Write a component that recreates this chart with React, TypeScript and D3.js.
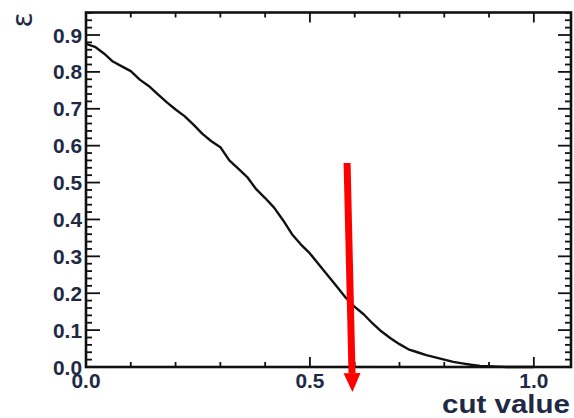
import React from "react";
import * as d3 from "d3";

const cutValues = [0.00, 0.02, 0.04, 0.06, 0.08, 0.10, 0.12, 0.14, 0.16, 0.18, 0.20, 0.22, 0.24, 0.26, 0.28, 0.30, 0.32, 0.34, 0.36, 0.38, 0.40, 0.42, 0.44, 0.46, 0.48, 0.50, 0.52, 0.54, 0.56, 0.58, 0.60, 0.62, 0.64, 0.66, 0.68, 0.70, 0.72, 0.74, 0.76, 0.78, 0.80, 0.82, 0.84, 0.86, 0.88, 0.90, 0.92, 0.94, 0.96, 0.98, 1.00];
const efficiency = [0.876, 0.868, 0.850, 0.828, 0.815, 0.802, 0.779, 0.762, 0.740, 0.718, 0.698, 0.680, 0.657, 0.632, 0.612, 0.596, 0.560, 0.538, 0.515, 0.482, 0.458, 0.432, 0.398, 0.360, 0.332, 0.308, 0.278, 0.248, 0.218, 0.188, 0.163, 0.143, 0.118, 0.096, 0.078, 0.062, 0.048, 0.040, 0.032, 0.026, 0.020, 0.014, 0.010, 0.006, 0.003, 0.002, 0.001, 0.000, 0.000, 0.000, 0.000];

const xTickLabels = ["0.0", "0.5", "1.0"];
const yTickLabels = ["0.0", "0.1", "0.2", "0.3", "0.4", "0.5", "0.6", "0.7", "0.8", "0.9"];
const xTitle = "cut value";
const yTitle = "ε";

// arrow annotation in data units (cut value, efficiency)
const arrowFrom = [0.583, 0.553];
const arrowTo = [0.595, -0.068];

const W = 574, H = 418;
const X0 = 86, X1 = 571, Y0 = 367, Y1 = 12.5;
const TEXT = "#1e2a44";

export default function App() {
  const x = d3.scaleLinear().domain([0, 1.083]).range([X0, X1]);
  const y = d3.scaleLinear().domain([0, 0.961]).range([Y0, Y1]);
  const pts: [number, number][] = cutValues.map((c, i) => [c, efficiency[i]]);
  const line = d3.line<[number, number]>().x(d => x(d[0])).y(d => y(d[1]));

  const yMinor = d3.range(0, 0.961, 0.02);
  const xMinor = d3.range(0, 1.083, 0.1);

  // arrow geometry
  const ax0 = x(arrowFrom[0]), ay0 = y(arrowFrom[1]);
  const ax1 = x(arrowTo[0]), ay1 = y(arrowTo[1]);
  const headLen = 19, headHalf = 8.5;
  const ang = Math.atan2(ay1 - ay0, ax1 - ax0);
  const bx = ax1 - headLen * Math.cos(ang), by = ay1 - headLen * Math.sin(ang);
  const px = -Math.sin(ang), py = Math.cos(ang);
  const head = `M${ax1},${ay1}L${bx + px * headHalf},${by + py * headHalf}L${bx - px * headHalf},${by - py * headHalf}Z`;

  return (
    <svg width={W} height={H} style={{ position: "absolute", left: 0, top: 0, background: "#fff" }}
      fontFamily="'Liberation Sans', Arial, sans-serif">
      <rect x={0} y={0} width={W} height={H} fill="#fff" />
      {/* y ticks */}
      {yMinor.map((v, i) => {
        const major = i % 5 === 0;
        return (
          <g key={"yt" + i}>
            <line x1={X0} x2={X0 + (major ? 14 : 6)} y1={y(v)} y2={y(v)} stroke="#111" strokeWidth={1.8} />
            <line x1={X1} x2={X1 - (major ? 13 : 6)} y1={y(v)} y2={y(v)} stroke="#111" strokeWidth={1.8} />
          </g>
        );
      })}
      {/* x ticks */}
      {xMinor.map((v, i) => {
        const major = i % 5 === 0;
        return (
          <g key={"xt" + i}>
            <line x1={x(v)} x2={x(v)} y1={Y0} y2={Y0 - (major ? 10 : 5)} stroke="#111" strokeWidth={1.8} />
            <line x1={x(v)} x2={x(v)} y1={Y1} y2={Y1 + (major ? 10 : 5)} stroke="#111" strokeWidth={1.8} />
          </g>
        );
      })}
      {/* frame */}
      <rect x={X0} y={Y1} width={X1 - X0} height={Y0 - Y1} fill="none" stroke="#111" strokeWidth={2.6} />
      {/* curve */}
      <path d={line(pts) || ""} fill="none" stroke="#111" strokeWidth={2.4} strokeLinejoin="round" />
      {/* y labels */}
      {yTickLabels.map((t, i) => (
        <text key={"yl" + i} x={82} y={y(+t) + 7.5} textAnchor="end" fontSize={19.5} fontWeight="bold"
          fill={TEXT} textLength={29} lengthAdjust="spacingAndGlyphs">{t}</text>
      ))}
      {/* x labels */}
      {xTickLabels.map((t, i) => (
        <text key={"xl" + i} x={x(+t) - 14.5} y={388} fontSize={19.5} fontWeight="bold"
          fill={TEXT} textLength={29} lengthAdjust="spacingAndGlyphs">{t}</text>
      ))}
      {/* titles */}
      <text x={442} y={413} fontSize={25} fontWeight="bold" fill={TEXT}
        textLength={128} lengthAdjust="spacingAndGlyphs">{xTitle}</text>
      <text transform="translate(32,20) rotate(-90)" textAnchor="middle" fontSize={28} fill={TEXT}
        fontFamily="'DejaVu Sans', sans-serif">{yTitle}</text>
      {/* arrow */}
      <line x1={ax0} y1={ay0} x2={bx} y2={by} stroke="#ff0000" strokeWidth={7} />
      <path d={head} fill="#ff0000" />
    </svg>
  );
}
